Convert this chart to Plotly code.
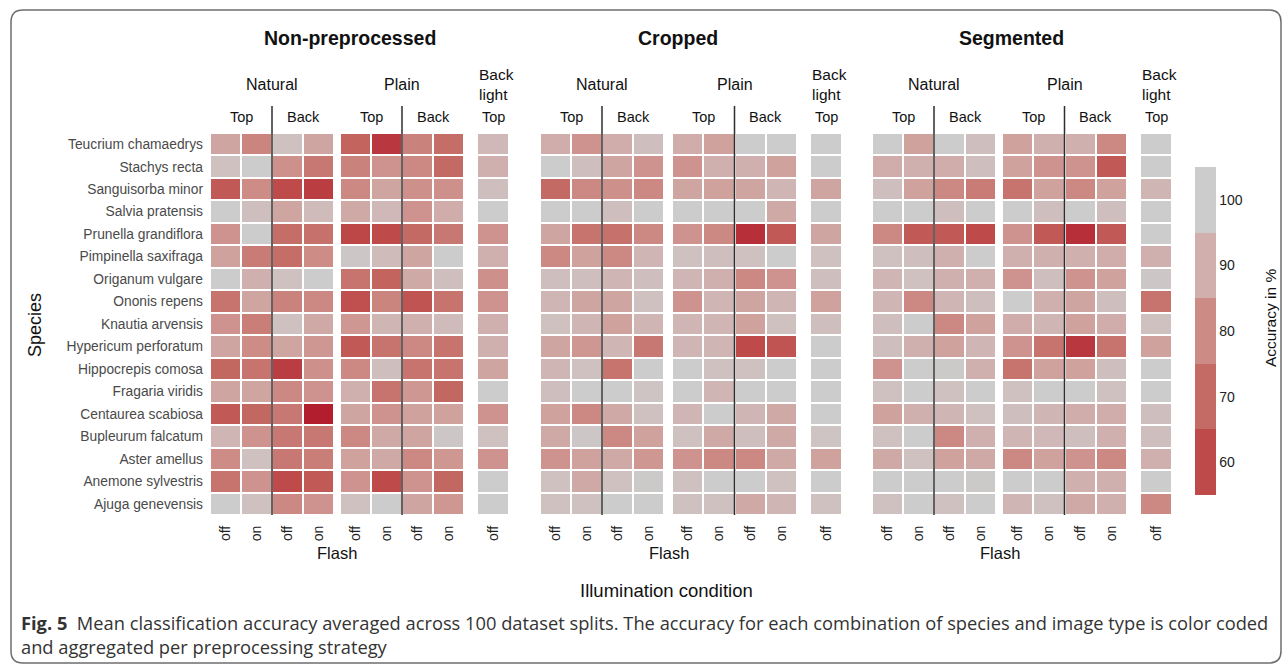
import plotly.graph_objects as go

# ---------------- data ----------------
species = [
    "Teucrium chamaedrys", "Stachys recta", "Sanguisorba minor", "Salvia pratensis",
    "Prunella grandiflora", "Pimpinella saxifraga", "Origanum vulgare", "Ononis repens",
    "Knautia arvensis", "Hypericum perforatum", "Hippocrepis comosa", "Fragaria viridis",
    "Centaurea scabiosa", "Bupleurum falcatum", "Aster amellus", "Anemone sylvestris",
    "Ajuga genevensis",
]
# column order: Natural Top off/on, Natural Back off/on, Plain Top off/on, Plain Back off/on, Back light Top off
column_keys = ["Top off", "Top on", "Back off", "Back on"]
flash_labels = ["off", "on", "off", "on"]
panel_titles = ["Non-preprocessed", "Cropped", "Segmented"]
group_labels = ["Natural", "Plain", "Back<br>light"]

non_preprocessed = [
    [87, 78, 96, 87, 68, 56, 77, 71, 93],
    [96, 100, 81, 74, 77, 82, 79, 70, 90],
    [65, 80, 60, 57, 79, 87, 81, 81, 95],
    [100, 95, 87, 94, 88, 93, 82, 89, 100],
    [82, 100, 71, 72, 59, 60, 70, 74, 82],
    [86, 75, 71, 80, 98, 94, 87, 100, 90],
    [100, 90, 96, 100, 73, 68, 88, 95, 81],
    [73, 87, 77, 79, 62, 78, 63, 73, 82],
    [82, 76, 96, 88, 83, 92, 90, 94, 90],
    [87, 80, 87, 83, 65, 73, 79, 73, 90],
    [69, 73, 57, 81, 79, 95, 73, 73, 87],
    [87, 87, 79, 82, 90, 73, 83, 69, 100],
    [65, 69, 74, 50, 87, 82, 86, 86, 82],
    [92, 82, 74, 74, 79, 88, 87, 98, 96],
    [80, 96, 74, 76, 86, 88, 79, 83, 82],
    [73, 82, 60, 65, 82, 60, 82, 69, 100],
    [100, 96, 79, 82, 96, 100, 87, 83, 100],
]
cropped = [
    [89, 82, 89, 95, 89, 86, 100, 100, 100],
    [100, 95, 87, 82, 82, 90, 90, 86, 100],
    [70, 79, 81, 79, 87, 86, 87, 92, 87],
    [100, 100, 95, 100, 100, 100, 100, 88, 100],
    [87, 73, 72, 79, 82, 79, 54, 65, 87],
    [79, 86, 79, 92, 96, 95, 96, 100, 96],
    [95, 95, 92, 95, 92, 90, 79, 82, 95],
    [92, 87, 87, 96, 82, 92, 87, 92, 86],
    [96, 92, 86, 92, 92, 92, 86, 96, 95],
    [87, 83, 92, 74, 92, 92, 60, 63, 100],
    [92, 96, 73, 100, 100, 96, 96, 100, 100],
    [95, 100, 100, 97, 100, 92, 100, 100, 100],
    [86, 79, 88, 96, 92, 100, 92, 88, 100],
    [88, 98, 79, 86, 96, 88, 95, 88, 97],
    [82, 86, 88, 83, 82, 79, 79, 88, 86],
    [96, 88, 96, 99, 96, 100, 100, 96, 100],
    [96, 96, 100, 100, 96, 96, 88, 92, 96],
]
segmented = [
    [100, 86, 100, 95, 86, 90, 90, 79, 100],
    [89, 90, 89, 95, 86, 82, 82, 65, 100],
    [95, 86, 79, 75, 73, 86, 79, 86, 92],
    [100, 100, 95, 100, 100, 95, 100, 95, 100],
    [79, 65, 65, 60, 82, 65, 54, 65, 100],
    [96, 95, 90, 100, 90, 90, 90, 89, 90],
    [92, 96, 90, 90, 82, 95, 82, 86, 98],
    [92, 79, 92, 95, 100, 90, 87, 95, 73],
    [95, 100, 79, 86, 89, 92, 86, 89, 96],
    [95, 90, 86, 92, 82, 73, 56, 73, 86],
    [82, 100, 99, 90, 73, 86, 86, 95, 100],
    [96, 100, 96, 100, 96, 100, 100, 96, 100],
    [86, 90, 92, 96, 95, 92, 89, 89, 95],
    [96, 100, 79, 90, 92, 93, 95, 90, 95],
    [88, 96, 86, 88, 79, 86, 82, 79, 90],
    [100, 100, 100, 99, 100, 100, 90, 90, 100],
    [96, 100, 96, 100, 92, 96, 88, 90, 79],
]
panels = [non_preprocessed, cropped, segmented]

colorbar_ticks = [60, 70, 80, 90, 100]

# ---------------- styling ----------------
W, H = 1287, 668
FONT = "Liberation Sans, Arial, sans-serif"
CAP_FONT = "Open Sans, sans-serif"
def fx(px):
    return px / W
def fy(py):
    return 1 - py / H

cell_scale = [[0.0, "#B21E2E"], [0.2, "#BE4A4A"], [0.4, "#C46A64"],
              [0.6, "#CD8C86"], [0.8, "#D0B0AE"], [1.0, "#CCCCCC"]]
band_cols = ["#BE4A4A", "#C46B65", "#CD8B86", "#D0AFAC", "#CCCCCC"]
disc_scale = []
for i, c in enumerate(band_cols):
    disc_scale += [[i / 5, c], [(i + 1) / 5, c]]

panel_px = [
    [(210, 334), (340, 464), (477, 509)],
    [(540, 664), (672, 797), (810, 842)],
    [(872, 996), (1002, 1127), (1140, 1172)],
]
title_px = [350, 678, 1011]
y_dom = [fy(515), fy(133)]

def ann(text, x, y, xref="paper", size=15, color="#111", **kw):
    d = dict(text=text, xref=xref, x=x, yref="paper", y=y, showarrow=False,
             font=dict(family=kw.pop("family", FONT), size=size, color=color),
             xanchor=kw.pop("xanchor", "center"), yanchor=kw.pop("yanchor", "middle"))
    d.update(kw)
    return d

fig = go.Figure()
layout = {}
annotations = []
shapes = []

for p, data in enumerate(panels):
    for g in range(3):
        k = p * 3 + g
        xname = "x" if k == 0 else f"x{k + 1}"
        xlay = "xaxis" if k == 0 else f"xaxis{k + 1}"
        if g < 2:
            cols = list(range(g * 4, g * 4 + 4))
            xcats = column_keys
            ticktext = flash_labels
        else:
            cols = [8]
            xcats = ["Top off"]
            ticktext = ["off"]
        z = [[row[c] for c in cols] for row in data]
        fig.add_trace(go.Heatmap(
            z=z, x=xcats, y=species, xaxis=xname, yaxis="y",
            colorscale=cell_scale, zmin=50, zmax=100, showscale=False,
            xgap=2, ygap=2,
            hovertemplate="%{y}<br>%{x}: %{z}%<extra></extra>",
        ))
        l, r = panel_px[p][g]
        layout[xlay] = dict(
            domain=[fx(l), fx(r)], anchor="y", type="category",
            categoryorder="array", categoryarray=xcats,
            tickmode="array", tickvals=xcats, ticktext=ticktext,
            tickangle=-90, tickfont=dict(family=FONT, size=14, color="#222"),
            ticks="", ticklabelstandoff=7,
            showgrid=False, zeroline=False, showline=False, fixedrange=True,
        )
        ref = xname + " domain"
        if g < 2:
            annotations.append(ann(group_labels[g], 0.5, fy(85), xref=ref, size=16))
            annotations.append(ann("Top", 0.25, fy(117), xref=ref, size=14.5))
            annotations.append(ann("Back", 0.75, fy(117), xref=ref, size=14.5))
            shapes.append(dict(type="line", xref=xname, x0=1.5, x1=1.5, yref="paper",
                               y0=fy(515), y1=fy(106), line=dict(color="#2e2e2e", width=1.5)))
        else:
            annotations.append(ann(group_labels[g], 0, fy(85), xref=ref, size=15.5,
                                   xanchor="left", align="left"))
            annotations.append(ann("Top", 0.5, fy(117), xref=ref, size=14.5))
    annotations.append(ann(f"<b>{panel_titles[p]}</b>", fx(title_px[p]), fy(38), size=19.5))
    nat_l = panel_px[p][0][0]
    pla_r = panel_px[p][1][1]
    annotations.append(ann("Flash", fx((nat_l + pla_r) / 2), fy(553), size=16.5))

# colour bar (discrete bands)
fig.add_trace(go.Scatter(
    x=[None], y=[None], mode="markers", xaxis="x", yaxis="y", showlegend=False, hoverinfo="skip",
    marker=dict(color=[80], colorscale=disc_scale, cmin=55, cmax=105, showscale=True,
                colorbar=dict(x=fx(1195), xanchor="left", xpad=0, ypad=0,
                              y=fy(331), yanchor="middle", len=328, lenmode="pixels",
                              thickness=21, outlinewidth=0, ticks="",
                              tickvals=colorbar_ticks, ticktext=[str(t) for t in colorbar_ticks],
                              tickfont=dict(family=FONT, size=14, color="#222"))),
))

annotations += [
    ann("Accuracy in %", fx(1270), fy(318), size=15.5, textangle=-90),
    ann("Species", fx(35), fy(325), size=18, textangle=-90),
    ann("Illumination condition", fx(667), fy(590), size=18.5),
    ann("<b>Fig. 5</b>  Mean classification accuracy averaged across 100 dataset splits. "
        "The accuracy for each combination of species and image type is color coded",
        fx(19), fy(622), family=CAP_FONT, size=18.3, color="#333333", xanchor="left"),
    ann("and aggregated per preprocessing strategy",
        fx(19), fy(646), family=CAP_FONT, size=18.3, color="#333333", xanchor="left"),
]

# rounded frame around the figure
x0, x1, y0, y1, r = 11, 1281, 10, 663, 12
path = (f"M {fx(x0 + r)},{fy(y0)} L {fx(x1 - r)},{fy(y0)} Q {fx(x1)},{fy(y0)} {fx(x1)},{fy(y0 + r)} "
        f"L {fx(x1)},{fy(y1 - r)} Q {fx(x1)},{fy(y1)} {fx(x1 - r)},{fy(y1)} "
        f"L {fx(x0 + r)},{fy(y1)} Q {fx(x0)},{fy(y1)} {fx(x0)},{fy(y1 - r)} "
        f"L {fx(x0)},{fy(y0 + r)} Q {fx(x0)},{fy(y0)} {fx(x0 + r)},{fy(y0)} Z")
shapes.append(dict(type="path", xref="paper", yref="paper", path=path,
                   line=dict(color="#6e6e6e", width=1.5)))

fig.update_layout(
    width=W, height=H, margin=dict(l=0, r=0, t=0, b=0),
    paper_bgcolor="white", plot_bgcolor="white",
    yaxis=dict(domain=y_dom, type="category", categoryorder="array", categoryarray=species,
               autorange="reversed", ticks="", ticklabelstandoff=6,
               tickfont=dict(family=FONT, size=13.8, color="#4a4a4a"),
               showgrid=False, zeroline=False, showline=False, fixedrange=True),
    annotations=annotations, shapes=shapes,
    font=dict(family=FONT),
    **layout,
)

fig.write_html("out.html", config={"displayModeBar": False},
               post_script="document.body.style.margin='0';document.body.style.overflow='hidden';")
